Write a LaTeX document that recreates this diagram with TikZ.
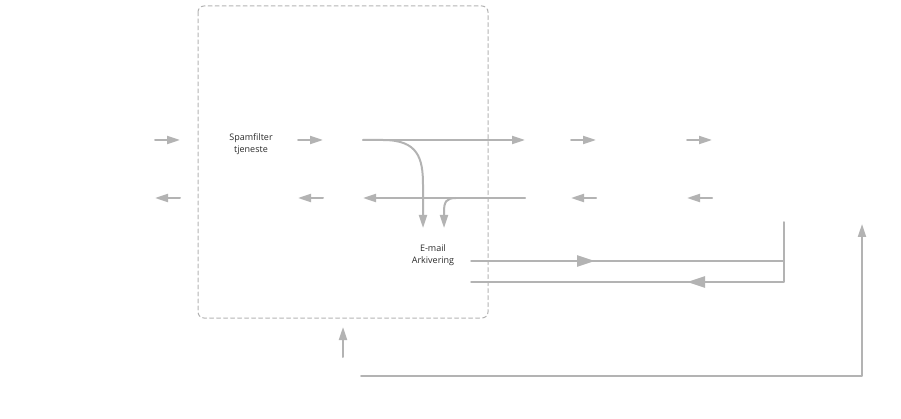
\documentclass[tikz,border=0pt]{standalone}
\usepackage{fontspec}
\setmainfont{Open Sans}
\usetikzlibrary{arrows.meta}
\definecolor{linegray}{HTML}{B3B3B3}
\definecolor{textgray}{HTML}{2B2B2B}

\begin{document}
\begin{tikzpicture}[x=1pt,y=-1pt,line cap=round,line join=round,
		flow/.style={draw=linegray, line width=2pt, -{Triangle[length=13pt,width=8pt]}},
		thin flow/.style={draw=linegray, line width=1.5pt},
		label/.style={align=center, font=\fontsize{9}{11.5}\selectfont, text=textgray, inner sep=0pt}]
			\useasboundingbox (0,0) rectangle (901,419);
			
			% zone of the spam filter
			\draw [linegray, line width=1pt, dash pattern=on 4pt off 3pt, rounded corners=6pt] (198,6) rectangle (488,318);
			
			\node [label] (spam) at (251,144) {Spamfilter\\tjeneste};
			\node [label] (arch) at (433,255) {E-mail\\Arkivering};
			
			% short arrows in and out
			\foreach \x in {155, 298, 571, 687}{
				\draw [flow] (\x,140) -- (\x+25,140);
				\draw [flow] (\x+25,198) -- (\x,198);}
			
			% main flows
			\coordinate (inA) at (363,140);
			\coordinate (inB) at (525,140);
			\coordinate (outA) at (525,198);
			\coordinate (outB) at (363,198);
			\draw [flow] (inA) -- (inB);
			\draw [flow] (outA) -- (outB);
			\draw [flow] (inA) -- (383,140) .. controls (418,140) and (423,158) .. (423,185) -- (423,228);
			\draw [flow] (456,198) .. controls (446,198) and (444,202) .. (444,212) -- (444,228);
			
			% archive loop
			\coordinate (loopA) at (471,261);
			\coordinate (loopB) at (784,261);
			\coordinate (loopC) at (784,282);
			\coordinate (loopD) at (471,282);
			\draw [thin flow] (loopA) -- (loopB) -- (loopC) -- (loopD);
			\draw [thin flow] (loopB) -- (784,222);
			\draw [draw=linegray, line width=2.5pt, -{Triangle[length=18pt,width=11pt]}] (560,261) -- (595,261);
			\draw [draw=linegray, line width=2.5pt, -{Triangle[length=18pt,width=11pt]}] (722,282) -- (687,282);
			
			% return path at the bottom
			\draw [flow] (343,357) -- (343,327);
			\draw [flow] (361,376) -- (862,376) -- (862,224);
		\end{tikzpicture}
\end{document}
